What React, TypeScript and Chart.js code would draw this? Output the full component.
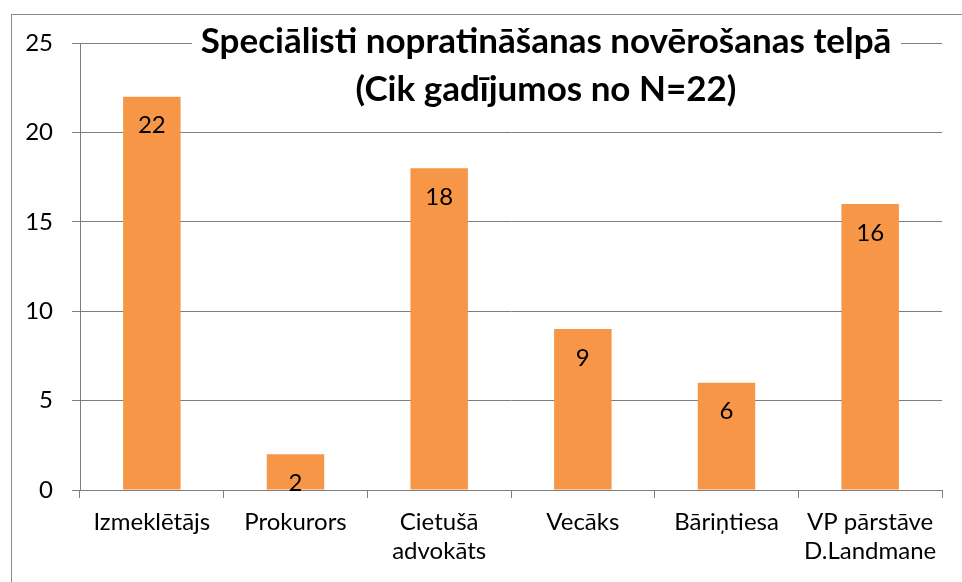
import React, { useEffect, useRef } from "react";
import { Chart, registerables } from "chart.js";

Chart.register(...registerables);

const categories: (string | string[])[] = [
  "Izmeklētājs",
  "Prokurors",
  ["Cietušā", "advokāts"],
  "Vecāks",
  "Bāriņtiesa",
  ["VP pārstāve", "D.Landmane"],
];
const values: number[] = [22, 2, 18, 9, 6, 16];
const titleLines: string[] = [
  "Speciālisti nopratināšanas novērošanas telpā",
  "(Cik gadījumos no N=22)",
];
const yTicks = { min: 0, max: 25, step: 5 };

const FONT = "Lato, 'Open Sans', sans-serif";
const GRID = "#7d7d7d";

const framePlugin = {
  id: "frame",
  beforeDraw(chart: any) {
    const ctx = chart.ctx;
    ctx.save();
    ctx.fillStyle = "#ffffff";
    ctx.fillRect(0, 0, chart.width, chart.height);
    ctx.strokeStyle = "#8a8a8a";
    ctx.lineWidth = 1;
    ctx.strokeRect(11.5, 14.5, 1200, 1200);
    ctx.restore();
  },
};

const labelPlugin = {
  id: "barLabels",
  afterDatasetsDraw(chart: any) {
    const ctx = chart.ctx;
    const meta = chart.getDatasetMeta(0);
    ctx.save();
    ctx.fillStyle = "#000000";
    ctx.font = `24px ${FONT}`;
    ctx.textAlign = "center";
    ctx.textBaseline = "middle";
    meta.data.forEach((el: any, i: number) => {
      ctx.fillText(String(values[i]), el.x, el.y + 29);
    });
    ctx.restore();
  },
};

const titlePlugin = {
  id: "overlayTitle",
  afterDraw(chart: any) {
    const ctx = chart.ctx;
    ctx.save();
    ctx.fillStyle = "#ffffff";
    ctx.fillRect(192, 18, 709, 98);
    ctx.fillStyle = "#000000";
    ctx.font = `bold 35px ${FONT}`;
    ctx.textAlign = "center";
    ctx.textBaseline = "middle";
    ctx.fillText(titleLines[0], 546, 42);
    ctx.fillText(titleLines[1], 546, 90);
    ctx.restore();
  },
};

export default function App() {
  const ref = useRef<HTMLCanvasElement | null>(null);
  useEffect(() => {
    if (!ref.current) return;
    const chart = new Chart(ref.current, {
      type: "bar",
      data: {
        labels: categories,
        datasets: [
          {
            data: values,
            backgroundColor: "#F79646",
            borderWidth: 0,
            barPercentage: 0.4,
            categoryPercentage: 1,
          },
        ],
      },
      options: {
        animation: false,
        responsive: false,
        maintainAspectRatio: false,
        layout: { padding: { left: 0, top: 43, right: 20, bottom: 0 } },
        plugins: {
          legend: { display: false },
          title: { display: false },
          tooltip: { enabled: false },
        },
        scales: {
          x: {
            grid: {
              drawOnChartArea: false,
              drawTicks: true,
              tickLength: 8,
              color: GRID,
              lineWidth: 1,
            },
            border: { display: true, color: GRID, width: 1 },
            ticks: {
              color: "#000000",
              font: { family: FONT, size: 24, lineHeight: 1.2 },
              padding: 10,
              maxRotation: 0,
              autoSkip: false,
            },
            afterFit(scale: any) {
              scale.height = 92;
            },
          },
          y: {
            min: yTicks.min,
            max: yTicks.max,
            grid: { color: GRID, tickLength: 8, lineWidth: 1 },
            border: { display: true, color: GRID, width: 1 },
            ticks: {
              stepSize: yTicks.step,
              color: "#000000",
              font: { family: FONT, size: 24 },
              padding: 19,
            },
            afterFit(scale: any) {
              scale.width = 80;
            },
          },
        },
      },
      plugins: [framePlugin, labelPlugin, titlePlugin],
    });
    return () => chart.destroy();
  }, []);
  return (
    <div style={{ position: "fixed", left: 0, top: 0, width: 962, height: 582 }}>
      <canvas ref={ref} width={962} height={582} style={{ width: 962, height: 582 }} />
    </div>
  );
}
